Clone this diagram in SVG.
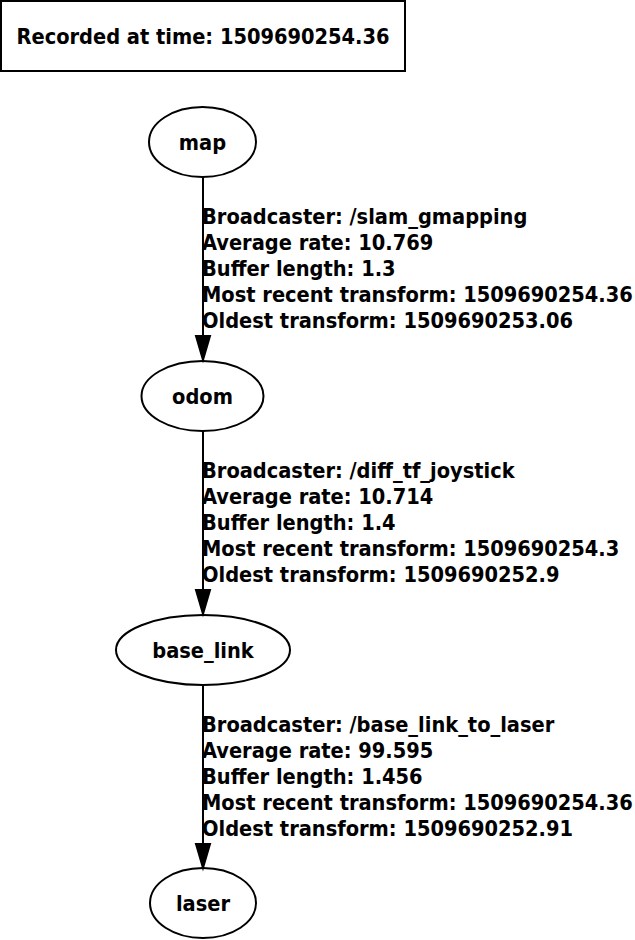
<svg xmlns="http://www.w3.org/2000/svg" width="635" height="940" viewBox="0 0 635 940">
<style>
text{font-family:"DejaVu Sans Condensed","DejaVu Sans",sans-serif;font-stretch:condensed;font-weight:bold;font-size:21.6px;fill:#000}
.c{text-anchor:middle}
.n{fill:none;stroke:#000;stroke-width:2}
.e{stroke:#000;stroke-width:2;fill:none}
.h{fill:#000;stroke:#000;stroke-width:2}
</style>
<rect width="635" height="940" fill="#fff"/>
<g id="title">
<rect x="1" y="1" width="404" height="70" class="n"/>
<text class="c" x="203" y="44">Recorded at time: 1509690254.36</text>
</g>
<g id="map">
<ellipse cx="202.5" cy="142" rx="53.5" ry="35" class="n"/>
<text class="c" x="202.5" y="150">map</text>
</g>
<g id="odom">
<ellipse cx="202.5" cy="396" rx="61" ry="35" class="n"/>
<text class="c" x="202.5" y="404">odom</text>
</g>
<g id="base_link">
<ellipse cx="203" cy="650" rx="87" ry="35" class="n"/>
<text class="c" x="203" y="658">base_link</text>
</g>
<g id="laser">
<ellipse cx="203" cy="903" rx="53" ry="35" class="n"/>
<text class="c" x="203" y="911">laser</text>
</g>
<g id="connectors">
<line x1="203" y1="177" x2="203" y2="336" class="e"/>
<polygon points="196,336 210,336 203,360" class="h"/>
<text x="202" y="224">Broadcaster: /slam_gmapping</text>
<text x="202" y="250">Average rate: 10.769</text>
<text x="202" y="276">Buffer length: 1.3</text>
<text x="202" y="302">Most recent transform: 1509690254.36</text>
<text x="202" y="328">Oldest transform: 1509690253.06</text>
<line x1="203" y1="431" x2="203" y2="590" class="e"/>
<polygon points="196,590 210,590 203,614" class="h"/>
<text x="202" y="478">Broadcaster: /diff_tf_joystick</text>
<text x="202" y="504">Average rate: 10.714</text>
<text x="202" y="530">Buffer length: 1.4</text>
<text x="202" y="556">Most recent transform: 1509690254.3</text>
<text x="202" y="582">Oldest transform: 1509690252.9</text>
<line x1="203" y1="685" x2="203" y2="844" class="e"/>
<polygon points="196,844 210,844 203,868" class="h"/>
<text x="202" y="732">Broadcaster: /base_link_to_laser</text>
<text x="202" y="758">Average rate: 99.595</text>
<text x="202" y="784">Buffer length: 1.456</text>
<text x="202" y="810">Most recent transform: 1509690254.36</text>
<text x="202" y="836">Oldest transform: 1509690252.91</text>
</g>
</svg>
